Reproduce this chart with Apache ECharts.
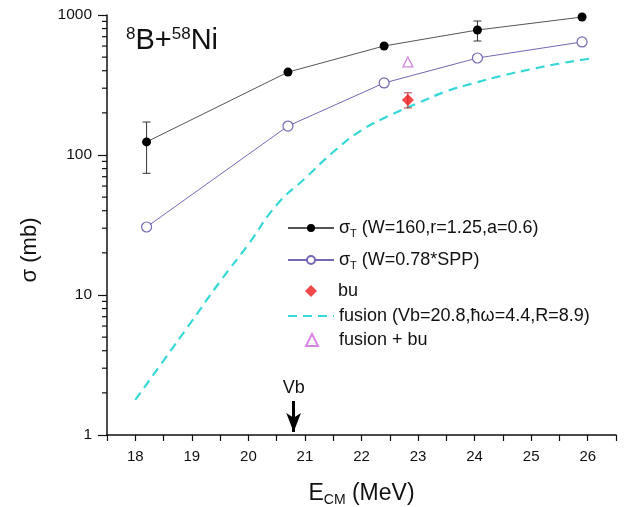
<!DOCTYPE html>
<html lang="en">
<head>
    <meta charset="UTF-8">
    <title>8B+58Ni cross sections</title>
    <script src="https://cdn.jsdelivr.net/npm/echarts@6/dist/echarts.min.js"></script>
    <style>
        html, body { margin: 0; padding: 0; background: #fff; }
        #main { width: 636px; height: 507px; }
    </style>
</head>
<body>
    <div id="main"></div>
    <script>
        // values
        const energies = [18.2, 20.7, 22.4, 24.05, 25.9];
        const sigmaW160 = [124, 391, 601, 781, 967];
        const sigmaSPP = [30.6, 161, 327, 493, 642];
        const errW160 = [[18.2, 74, 172], [24.05, 652, 906]];

        const buPoint = [[22.82, 247]];
        const buErr = [[22.82, 217, 278]];
        const fusionBuPoint = [[22.82, 462]];

        const fusionE = [18, 18.5, 19, 19.5, 20, 20.5, 21, 21.5, 22, 22.5, 23, 23.5, 24, 24.5, 25, 25.5, 26, 26.1];
        const fusionSigma = [1.78, 3.4, 6.5, 12.5, 23, 44, 68, 105, 150, 192, 235, 285, 327, 370, 410, 450, 485, 490];

        const xMin = 17.5;
        const xMax = 26.5;
        const yTicks = [1, 10, 100, 1000];
        const yMinorTicks = [2, 3, 4, 5, 6, 7, 8, 9, 20, 30, 40, 50, 60, 70, 80, 90, 200, 300, 400, 500, 600, 700, 800, 900];
        const vb = 20.8;
        const vbArrow = [1.75, 1.05];

        const font = 'Liberation Sans, Arial, sans-serif';

        const names = {
            w160: 'sT (W=160,r=1.25,a=0.6)',
            spp: 'sT (W=0.78*SPP)',
            bu: 'bu',
            fus: 'fusion',
            fusbu: 'fusion + bu'
        };

        function zip(xs, ys) {
            return xs.map((x, i) => [x, ys[i]]);
        }

        function errorBar(color) {
            return function (params, api) {
                const hi = api.coord([api.value(0), api.value(2)]);
                const lo = api.coord([api.value(0), api.value(1)]);
                const w = 4;
                const st = { stroke: color, lineWidth: 1 };
                return {
                    type: 'group',
                    children: [
                        { type: 'line', shape: { x1: hi[0], y1: hi[1], x2: lo[0], y2: lo[1] }, style: st },
                        { type: 'line', shape: { x1: hi[0] - w, y1: hi[1], x2: hi[0] + w, y2: hi[1] }, style: st },
                        { type: 'line', shape: { x1: lo[0] - w, y1: lo[1], x2: lo[0] + w, y2: lo[1] }, style: st }
                    ]
                };
            };
        }

        const legendText = {
            fontFamily: font,
            fontSize: 18,
            color: '#111',
            rich: {
                t: { fontSize: 18, fontFamily: font, color: '#111', lineHeight: 22 },
                sub: { fontSize: 11, fontFamily: font, color: '#111', verticalAlign: 'bottom', lineHeight: 14 }
            }
        };

        function legendFormatter(name) {
            if (name === names.w160) return '{t|σ}{sub|T}{t| (W=160,r=1.25,a=0.6)}';
            if (name === names.spp) return '{t|σ}{sub|T}{t| (W=0.78*SPP)}';
            if (name === names.fus) return '{t|fusion (Vb=20.8,ħω=4.4,R=8.9)}';
            return '{t|' + name + '}';
        }

        // one legend block per row so each row sits where the figure has it
        function lineLegend(item, top) {
            return {
                left: 282, top: top, itemWidth: 46, itemHeight: 10,
                data: [item], formatter: legendFormatter, textStyle: legendText,
                selectedMode: false
            };
        }
        function markLegend(item, top) {
            return {
                left: 300, top: top, itemWidth: 12, itemHeight: 12, itemGap: 0,
                data: [item], formatter: legendFormatter,
                textStyle: Object.assign({}, legendText, { padding: [0, 0, 0, 16] }),
                selectedMode: false
            };
        }

        const chart = echarts.init(document.getElementById('main'), null, { renderer: 'canvas' });

        const option = {
            backgroundColor: '#ffffff',
            animation: false,
            textStyle: { fontFamily: font },
            grid: { left: 107, right: 20, top: 15, bottom: 72, outerBoundsMode: 'none' },
            graphic: [
                {
                    type: 'text',
                    left: 126,
                    top: 26,
                    style: {
                        text: '{s|8}{b|B+}{s|58}{b|Ni}',
                        fontFamily: font,
                        rich: {
                            s: { fontSize: 17, fontFamily: font, fill: '#111', verticalAlign: 'top', lineHeight: 30 },
                            b: { fontSize: 29, fontFamily: font, fill: '#111', lineHeight: 30 }
                        }
                    }
                },
                {
                    type: 'text',
                    x: 30,
                    y: 250,
                    rotation: Math.PI / 2,
                    style: {
                        text: 'σ (mb)',
                        fontFamily: font,
                        fontSize: 22,
                        fill: '#111',
                        align: 'center',
                        verticalAlign: 'middle'
                    }
                }
            ],
            legend: [
                lineLegend(names.w160, 214),
                lineLegend(names.spp, 246),
                markLegend(names.bu, 277),
                lineLegend({ name: names.fus, itemStyle: { color: 'transparent', borderWidth: 0 } }, 302),
                markLegend(names.fusbu, 326)
            ],
            xAxis: {
                type: 'value',
                min: xMin,
                max: xMax,
                interval: 0.5,
                name: '{e|E}{sub|CM}{e| (MeV)}',
                nameLocation: 'middle',
                nameGap: 46,
                nameTextStyle: {
                    rich: {
                        e: { fontSize: 23, fontFamily: font, color: '#111', lineHeight: 26 },
                        sub: { fontSize: 14, fontFamily: font, color: '#111', verticalAlign: 'bottom', lineHeight: 16 }
                    }
                },
                axisLine: { lineStyle: { color: '#111', width: 1.5 } },
                axisTick: { inside: false, length: 6, lineStyle: { color: '#111', width: 1.2 } },
                axisLabel: {
                    fontSize: 15,
                    color: '#111',
                    margin: 14,
                    formatter: v => (Number.isInteger(v) ? String(v) : '')
                },
                splitLine: { show: false }
            },
            yAxis: {
                type: 'log',
                logBase: 10,
                min: yTicks[0],
                max: yTicks[yTicks.length - 1],
                axisLine: { show: true, lineStyle: { color: '#111', width: 1.5 } },
                axisTick: { inside: false, length: 9, lineStyle: { color: '#111', width: 1.2 } },
                axisLabel: { fontSize: 15.5, color: '#111', margin: 15, formatter: v => String(v) },
                splitLine: { show: false }
            },
            series: [
                {
                    name: names.fus,
                    type: 'line',
                    smooth: true,
                    symbol: 'none',
                    z: 2,
                    lineStyle: { color: '#38d8d8', width: 2.2, type: [9, 6] },
                    itemStyle: { color: '#38d8d8' },
                    data: zip(fusionE, fusionSigma),
                    markLine: {
                        silent: true,
                        symbol: ['none', 'arrow'],
                        symbolSize: [11, 19],
                        lineStyle: { color: '#000', width: 3, type: 'solid' },
                        label: { show: true, position: 'start', formatter: 'Vb', color: '#111', fontSize: 18, fontFamily: font, distance: 4 },
                        data: [[{ coord: [vb, vbArrow[0]] }, { coord: [vb, vbArrow[1]] }]]
                    }
                },
                {
                    name: names.w160,
                    type: 'line',
                    symbol: 'circle',
                    symbolSize: 9,
                    z: 4,
                    lineStyle: { color: '#555', width: 1 },
                    itemStyle: { color: '#000' },
                    data: zip(energies, sigmaW160)
                },
                {
                    name: names.spp,
                    type: 'line',
                    symbol: 'circle',
                    symbolSize: 10,
                    z: 4,
                    lineStyle: { color: '#7666b4', width: 1 },
                    itemStyle: { color: '#fff', borderColor: '#7666b4', borderWidth: 1.2 },
                    data: zip(energies, sigmaSPP)
                },
                {
                    name: names.bu,
                    type: 'scatter',
                    symbol: 'diamond',
                    symbolSize: 12,
                    z: 5,
                    itemStyle: { color: '#ee1c1c' },
                    data: buPoint
                },
                {
                    name: names.fusbu,
                    type: 'scatter',
                    symbol: 'triangle',
                    symbolSize: 10,
                    z: 5,
                    itemStyle: { color: '#fff', borderColor: '#cc66d8', borderWidth: 1.3 },
                    data: fusionBuPoint
                },
                {
                    name: 'errW160',
                    type: 'custom',
                    z: 3,
                    renderItem: errorBar('#333'),
                    encode: { x: 0, y: [1, 2] },
                    data: errW160
                },
                {
                    name: 'errBu',
                    type: 'custom',
                    z: 3,
                    renderItem: errorBar('#b03a3a'),
                    encode: { x: 0, y: [1, 2] },
                    data: buErr
                },
                {
                    // log minor ticks on the y axis
                    name: 'yMinor',
                    type: 'custom',
                    clip: false,
                    silent: true,
                    renderItem: function (params, api) {
                        const p = api.coord([api.value(0), api.value(1)]);
                        return {
                            type: 'line',
                            shape: { x1: p[0] - 5, y1: p[1], x2: p[0], y2: p[1] },
                            style: { stroke: '#111', lineWidth: 1.2 }
                        };
                    },
                    encode: { x: 0, y: 1 },
                    data: yMinorTicks.map(v => [xMin, v])
                }
            ]
        };

        chart.setOption(option);
    </script>
</body>
</html>
